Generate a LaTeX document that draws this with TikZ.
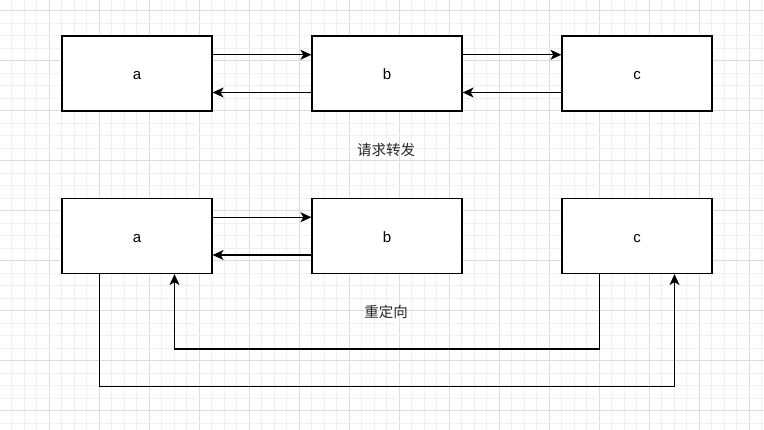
\documentclass[tikz,border=0pt]{standalone}
\usepackage{fontspec}
\setmainfont{Liberation Sans}
\newfontfamily\cjk{Noto Sans CJK SC}
\usetikzlibrary{arrows.meta}
\definecolor{minorgrid}{HTML}{F0F0F0}
\definecolor{majorgrid}{HTML}{DDDDDD}
\tikzset{
  box/.style={draw=black, fill=white, line width=1.2pt, minimum width=150pt, minimum height=75pt, inner sep=0pt, text height=13pt, text depth=0pt, font=\fontsize{15}{17}\selectfont},
  conn/.style={draw=black, line width=1.2pt, -{Stealth[length=11pt,width=10pt,inset=3pt]}},
  lbl/.style={font=\cjk\fontsize{14.5}{17}\selectfont, text=black!85}
}
\begin{document}
\begin{tikzpicture}[x=1pt,y=-1pt]
\useasboundingbox (0,0) rectangle (764,430);
\fill[white] (0,0) rectangle (764,430);
\begin{scope}
\clip (0,0) rectangle (764,430);
\foreach \i in {0,...,60}{
  \pgfmathsetmacro\xx{11.5+12.5*\i}
  \pgfmathtruncatemacro\m{mod(\i,4)}
  \ifnum\m=3
    \draw[majorgrid, line width=1pt] (\xx,0) -- (\xx,430);
  \else
    \draw[minorgrid, line width=1pt] (\xx,0) -- (\xx,430);
  \fi
}
\foreach \j in {0,...,33}{
  \pgfmathsetmacro\yy{11+12.5*\j}
  \pgfmathtruncatemacro\m{mod(\j,4)}
  \ifnum\m=0
    \draw[majorgrid, line width=1pt] (0,\yy) -- (764,\yy);
  \else
    \draw[minorgrid, line width=1pt] (0,\yy) -- (764,\yy);
  \fi
}
\end{scope}

\node[box] (a1) at (137,73.5) {a};
\node[box] (b1) at (387,73.5) {b};
\node[box] (c1) at (637,73.5) {c};
\node[box] (a2) at (137,236) {a};
\node[box] (b2) at (387,236) {b};
\node[box] (c2) at (637,236) {c};

\draw[conn] ([yshift=18.75pt]a1.east) -- ([yshift=18.75pt]b1.west);
\draw[conn] ([yshift=-19pt]b1.west) -- ([yshift=-19pt]a1.east);
\draw[conn] ([yshift=18.75pt]b1.east) -- ([yshift=18.75pt]c1.west);
\draw[conn] ([yshift=-19pt]c1.west) -- ([yshift=-19pt]b1.east);

\draw[conn] ([yshift=18.75pt]a2.east) -- ([yshift=18.75pt]b2.west);
\draw[conn] ([yshift=-19pt]b2.west) -- ([yshift=-19pt]a2.east);

\draw[conn] ([xshift=-37.5pt]a2.south) -- ++(0,112.5) -| ([xshift=37.5pt]c2.south);
\draw[conn] ([xshift=-37.5pt]c2.south) -- ++(0,75) -| ([xshift=37.5pt]a2.south);

\node[lbl] (t1) at (386,150) {请求转发};
\node[lbl] (t2) at (386,311.5) {重定向};
\end{tikzpicture}
\end{document}
